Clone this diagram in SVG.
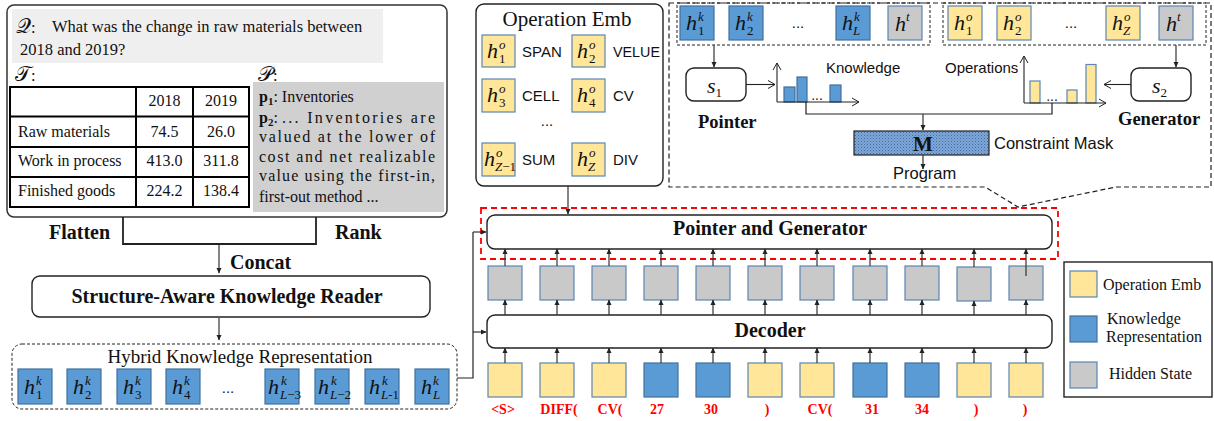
<svg xmlns="http://www.w3.org/2000/svg" width="1214" height="421" viewBox="0 0 1214 421">
<style>
.ser{font-family:"Liberation Serif","Times New Roman",serif}
.san{font-family:"Liberation Sans",Arial,sans-serif}
.blue{fill:#5b9bd5;stroke:#41719c;stroke-width:1.2}
.yel{fill:#ffe699;stroke:#5b86b5;stroke-width:1.2}
.gry{fill:#c9c9c9;stroke:#5b86b5;stroke-width:1.2}
.hl{font-family:"Liberation Serif","Times New Roman",serif;font-style:italic;font-size:22px;fill:#111}
.sp{font-size:13px;font-style:italic}
.sb{font-size:13px;font-style:normal}
.si{font-size:13px;font-style:italic}
.rbox{fill:#fff;stroke:#222;stroke-width:1.4}
.ln{fill:none;stroke:#222;stroke-width:1.2}
.arr{fill:none;stroke:#333;stroke-width:1.2;marker-end:url(#ah)}
.oarr{fill:none;stroke:#222;stroke-width:1.1;marker-end:url(#oa)}
.dash{fill:none;stroke:#222;stroke-width:1;stroke-dasharray:3,2}
.bold{font-family:"Liberation Serif","Times New Roman",serif;font-weight:bold;fill:#111}
.tok{font-family:"Liberation Serif","Times New Roman",serif;font-weight:bold;font-size:14px;fill:#ff0000;text-anchor:middle}
.tb{fill:none;stroke:#000;stroke-width:2}
.tt{font-family:"Liberation Serif","Times New Roman",serif;font-size:16px;fill:#111}
.scr{font-family:"DejaVu Serif","Liberation Serif",serif;font-size:21px;fill:#111}
</style>
<defs>
<marker id="ah" markerWidth="6" markerHeight="6" refX="5" refY="3" orient="auto" markerUnits="userSpaceOnUse"><path d="M0,0.5 L5.5,3 L0,5.5 z" fill="#222"/></marker>
<marker id="oa" markerWidth="10" markerHeight="10" refX="8" refY="5" orient="auto" markerUnits="userSpaceOnUse"><path d="M1,1 L8,5 L1,9" fill="none" stroke="#222" stroke-width="1"/></marker>
<pattern id="dots" width="3" height="3" patternUnits="userSpaceOnUse"><rect width="3" height="3" fill="#80a7d8"/><rect width="1" height="1" fill="#3f6da8"/><rect x="1.5" y="1.5" width="1" height="1" fill="#4d7bb5"/></pattern>
</defs>

<!-- Input: question, table, passage -->
<g id="input">
<rect x="7" y="5" width="440" height="212" rx="7" fill="#fff" stroke="#333" stroke-width="1.5"/>
<rect x="12" y="9" width="371" height="54" fill="#efefef"/>
<text class="scr" x="16" y="33">𝒬<tspan class="ser" font-size="16.5">:</tspan></text>
<text class="ser" x="52" y="32" font-size="16.5" fill="#111">What was the change in raw materials between</text>
<text class="ser" x="20" y="55" font-size="16.5" fill="#111">2018 and 2019?</text>
<text class="scr" x="15" y="81">𝒯<tspan class="ser" font-size="16.5">:</tspan></text>
<text class="scr" x="258" y="81">𝒫<tspan class="ser" font-size="16.5">:</tspan></text>
<rect class="tb" x="10" y="87" width="239" height="120"/>
<path class="tb" d="M10,116.5 H249 M10,147 H249 M10,177 H249 M136,87 V207 M193,87 V207"/>
<text class="tt" x="164.5" y="106" text-anchor="middle">2018</text>
<text class="tt" x="221" y="106" text-anchor="middle">2019</text>
<text class="tt" x="18" y="137">Raw materials</text>
<text class="tt" x="164.5" y="137" text-anchor="middle">74.5</text>
<text class="tt" x="221" y="137" text-anchor="middle">26.0</text>
<text class="tt" x="18" y="166">Work in process</text>
<text class="tt" x="164.5" y="166" text-anchor="middle">413.0</text>
<text class="tt" x="221" y="166" text-anchor="middle">311.8</text>
<text class="tt" x="18" y="196">Finished goods</text>
<text class="tt" x="164.5" y="196" text-anchor="middle">224.2</text>
<text class="tt" x="221" y="196" text-anchor="middle">138.4</text>
<rect x="253" y="82" width="191" height="130" fill="#d0d0d0"/>
<text class="tt" x="259" y="102"><tspan font-weight="bold">p</tspan><tspan font-weight="bold" font-size="11" dy="3">1</tspan><tspan dy="-3">: Inventories</tspan></text>
<text class="tt" x="259" y="123"><tspan font-weight="bold">p</tspan><tspan font-weight="bold" font-size="11" dy="3">2</tspan><tspan dy="-3">:</tspan></text>
<text class="tt" x="282" y="123" textLength="153" lengthAdjust="spacing">... Inventories are</text>
<text class="tt" x="259" y="142" textLength="176" lengthAdjust="spacing">valued at the lower of</text>
<text class="tt" x="259" y="162" textLength="176" lengthAdjust="spacing">cost and net realizable</text>
<text class="tt" x="259" y="181" textLength="176" lengthAdjust="spacing">value using the first-in,</text>
<text class="tt" x="259" y="202">first-out method ...</text>
</g>

<g id="flatten-rank">
<path d="M123,217 V244 H316 V217" fill="none" stroke="#222" stroke-width="1.8"/>
<text class="bold" x="49" y="239" font-size="20">Flatten</text>
<text class="bold" x="335" y="239" font-size="20">Rank</text>
<text class="bold" x="230" y="269" font-size="20">Concat</text>
</g>

<g id="reader">
<rect class="rbox" x="32" y="276" width="398" height="41" rx="8"/>
<text class="bold" x="227" y="303" font-size="20" text-anchor="middle">Structure-Aware Knowledge Reader</text>
</g>

<g id="hybrid">
<rect x="12" y="344" width="445" height="65" rx="10" class="dash"/>
<text class="ser" x="240" y="363" font-size="19" text-anchor="middle" fill="#111">Hybrid Knowledge Representation</text>
<rect class="blue" x="18" y="369" width="34" height="35"/>
<rect class="blue" x="67" y="369" width="34" height="35"/>
<rect class="blue" x="117" y="369" width="34" height="35"/>
<rect class="blue" x="166" y="369" width="34" height="35"/>
<rect class="blue" x="265" y="369" width="34" height="35"/>
<rect class="blue" x="315" y="369" width="34" height="35"/>
<rect class="blue" x="365" y="369" width="34" height="35"/>
<rect class="blue" x="415" y="369" width="34" height="35"/>
<text class="hl" x="24" y="394">h<tspan class="sp" x="36" dy="-9">k</tspan><tspan class="sb" x="36" dy="14">1</tspan></text>
<text class="hl" x="73" y="394">h<tspan class="sp" x="85" dy="-9">k</tspan><tspan class="sb" x="85" dy="14">2</tspan></text>
<text class="hl" x="123" y="394">h<tspan class="sp" x="135" dy="-9">k</tspan><tspan class="sb" x="135" dy="14">3</tspan></text>
<text class="hl" x="172" y="394">h<tspan class="sp" x="184" dy="-9">k</tspan><tspan class="sb" x="184" dy="14">4</tspan></text>
<text class="san" x="228" y="393" font-size="15" text-anchor="middle" fill="#111">...</text>
<text class="hl" x="268" y="394">h<tspan class="sp" x="281" dy="-9">k</tspan><tspan class="si" x="280" dy="14">L</tspan><tspan class="sb">−3</tspan></text>
<text class="hl" x="318" y="394">h<tspan class="sp" x="331" dy="-9">k</tspan><tspan class="si" x="330" dy="14">L</tspan><tspan class="sb">−2</tspan></text>
<text class="hl" x="369" y="394">h<tspan class="sp" x="382" dy="-9">k</tspan><tspan class="si" x="381" dy="14">L</tspan><tspan class="sb">-1</tspan></text>
<text class="hl" x="421" y="394">h<tspan class="sp" x="433" dy="-9">k</tspan><tspan class="si" x="433" dy="14">L</tspan></text>
</g>

<g id="operation-emb">
<rect class="rbox" x="476" y="4" width="187" height="182" rx="8"/>
<text class="ser" x="567" y="26" font-size="21" text-anchor="middle" fill="#111">Operation Emb</text>
<rect class="yel" x="482" y="35" width="33" height="32"/>
<rect class="yel" x="572" y="35" width="33" height="32"/>
<rect class="yel" x="482" y="79" width="33" height="33"/>
<rect class="yel" x="572" y="79" width="33" height="33"/>
<rect class="yel" x="482" y="143" width="33" height="33"/>
<rect class="yel" x="572" y="143" width="33" height="33"/>
<text class="hl" x="487" y="58">h<tspan class="sp" x="499" dy="-9">o</tspan><tspan class="sb" x="499" dy="14">1</tspan></text>
<text class="hl" x="577" y="58">h<tspan class="sp" x="589" dy="-9">o</tspan><tspan class="sb" x="589" dy="14">2</tspan></text>
<text class="hl" x="487" y="102">h<tspan class="sp" x="499" dy="-9">o</tspan><tspan class="sb" x="499" dy="14">3</tspan></text>
<text class="hl" x="577" y="102">h<tspan class="sp" x="589" dy="-9">o</tspan><tspan class="sb" x="589" dy="14">4</tspan></text>
<text class="hl" x="484" y="166">h<tspan class="sp" x="496" dy="-9">o</tspan><tspan class="si" x="495" dy="14">Z</tspan><tspan class="sb">−1</tspan></text>
<text class="hl" x="577" y="166">h<tspan class="sp" x="589" dy="-9">o</tspan><tspan class="si" x="588" dy="14">Z</tspan></text>
<g class="san" font-size="15" fill="#111">
<text x="522" y="57">SPAN</text>
<text x="613" y="57" textLength="47" lengthAdjust="spacingAndGlyphs">VELUE</text>
<text x="522" y="101">CELL</text>
<text x="613" y="101">CV</text>
<text x="547" y="126" text-anchor="middle">...</text>
<text x="522" y="165">SUM</text>
<text x="613" y="165">DIV</text>
</g>
</g>

<!-- Zoomed pointer/generator detail -->
<g id="pg-detail">
<path d="M669,3 H1211 V187 H1116 L1018,207 L985,187 H669 Z" fill="none" stroke="#222" stroke-width="1.2" stroke-dasharray="5,3"/>
<rect class="dash" x="677" y="3" width="253" height="42"/>
<rect class="dash" x="943" y="3" width="263" height="42"/>
<rect class="blue" x="680" y="6" width="34" height="34"/>
<rect class="blue" x="729" y="6" width="34" height="34"/>
<rect class="blue" x="836" y="6" width="34" height="34"/>
<rect class="gry" x="888" y="6" width="34" height="34"/>
<text class="hl" x="686" y="30">h<tspan class="sp" x="698" dy="-9">k</tspan><tspan class="sb" x="698" dy="14">1</tspan></text>
<text class="hl" x="735" y="30">h<tspan class="sp" x="747" dy="-9">k</tspan><tspan class="sb" x="747" dy="14">2</tspan></text>
<text class="san" x="798" y="28" font-size="15" text-anchor="middle" fill="#111">...</text>
<text class="hl" x="842" y="30">h<tspan class="sp" x="854" dy="-9">k</tspan><tspan class="si" x="853" dy="14">L</tspan></text>
<text class="hl" x="895" y="31" font-size="24">h<tspan class="sp" font-size="14" dy="-10">t</tspan></text>
<rect class="yel" x="948" y="6" width="34" height="34"/>
<rect class="yel" x="997" y="6" width="34" height="34"/>
<rect class="yel" x="1106" y="6" width="34" height="34"/>
<rect class="gry" x="1159" y="6" width="34" height="34"/>
<text class="hl" x="954" y="30">h<tspan class="sp" x="966" dy="-9">o</tspan><tspan class="sb" x="966" dy="14">1</tspan></text>
<text class="hl" x="1003" y="30">h<tspan class="sp" x="1015" dy="-9">o</tspan><tspan class="sb" x="1015" dy="14">2</tspan></text>
<text class="san" x="1071" y="28" font-size="15" text-anchor="middle" fill="#111">...</text>
<text class="hl" x="1112" y="30">h<tspan class="sp" x="1124" dy="-9">o</tspan><tspan class="si" x="1123" dy="14">Z</tspan></text>
<text class="hl" x="1166" y="31" font-size="24">h<tspan class="sp" font-size="14" dy="-10">t</tspan></text>

<rect class="rbox" x="686" y="68" width="60" height="33" rx="8"/>
<text class="hl" x="707" y="93" font-size="24">s<tspan class="sb" font-size="15" dy="4">1</tspan></text>
<rect class="rbox" x="1131" y="68" width="60" height="33" rx="8"/>
<text class="hl" x="1152" y="93" font-size="24">s<tspan class="sb" font-size="15" dy="4">2</tspan></text>

<rect class="blue" x="784" y="87" width="11" height="15"/>
<rect class="blue" x="797" y="77" width="10" height="25"/>
<rect class="blue" x="830" y="85" width="11" height="17"/>
<text class="san" x="817" y="100" font-size="14" text-anchor="middle" fill="#111">...</text>
<path class="oarr" d="M777,102 V63"/>
<path class="oarr" d="M777,102 H859"/>
<text class="san" x="826" y="73" font-size="15" fill="#111">Knowledge</text>

<rect class="yel" x="1030" y="81" width="10" height="22"/>
<rect class="yel" x="1067" y="90" width="10" height="13"/>
<rect class="yel" x="1086" y="64.5" width="10" height="38.5"/>
<text class="san" x="1052" y="101" font-size="14" text-anchor="middle" fill="#111">...</text>
<path class="oarr" d="M1024,103 V56"/>
<path class="oarr" d="M1024,103 H1106"/>
<text class="san" x="945" y="73" font-size="15" fill="#111">Operations</text>

<text class="bold" x="698" y="128" font-size="18.5">Pointer</text>
<text class="bold" x="1118" y="125" font-size="18.5">Generator</text>

<rect x="854" y="131" width="135" height="24" fill="url(#dots)" stroke="#222" stroke-width="1.2"/>
<text class="bold" x="923" y="151" font-size="21" text-anchor="middle">M</text>
<text class="san" x="994" y="149" font-size="16.5" fill="#111">Constraint Mask</text>
<text class="san" x="893" y="179" font-size="16.5" fill="#111">Program</text>
</g>

<g id="pointer-generator">
<rect x="481" y="208" width="577" height="51" fill="none" stroke="#ff0000" stroke-width="1.8" stroke-dasharray="6,4"/>
<rect class="rbox" x="487" y="215" width="565" height="34" rx="8"/>
<text class="bold" x="770" y="235" font-size="20" text-anchor="middle">Pointer and Generator</text>
</g>

<g id="hidden-states">
<rect class="gry" x="488" y="266" width="34" height="34"/>
<rect class="gry" x="540" y="266" width="34" height="34"/>
<rect class="gry" x="592" y="266" width="34" height="34"/>
<rect class="gry" x="644" y="266" width="34" height="34"/>
<rect class="gry" x="696" y="266" width="34" height="34"/>
<rect class="gry" x="748" y="266" width="34" height="34"/>
<rect class="gry" x="800" y="266" width="34" height="34"/>
<rect class="gry" x="853" y="266" width="34" height="34"/>
<rect class="gry" x="905" y="266" width="34" height="34"/>
<rect class="gry" x="957" y="267" width="34" height="34"/>
<rect class="gry" x="1009" y="266" width="34" height="34"/>
</g>

<g id="decoder">
<rect class="rbox" x="487" y="315" width="565" height="33" rx="8"/>
<text class="bold" x="770" y="337" font-size="20" text-anchor="middle">Decoder</text>
</g>

<g id="input-tokens">
<rect class="yel" x="488" y="363" width="34" height="34"/>
<rect class="yel" x="540" y="363" width="34" height="34"/>
<rect class="yel" x="592" y="363" width="34" height="34"/>
<rect class="blue" x="644" y="363" width="34" height="34"/>
<rect class="blue" x="696" y="363" width="34" height="34"/>
<rect class="yel" x="748" y="363" width="34" height="34"/>
<rect class="yel" x="800" y="363" width="34" height="34"/>
<rect class="blue" x="853" y="363" width="34" height="34"/>
<rect class="blue" x="905" y="363" width="34" height="34"/>
<rect class="yel" x="957" y="363" width="34" height="34"/>
<rect class="yel" x="1009" y="363" width="34" height="34"/>
<text class="tok" x="503" y="414">&lt;S&gt;</text>
<text class="tok" x="559" y="414">DIFF(</text>
<text class="tok" x="610" y="414">CV(</text>
<text class="tok" x="657" y="414">27</text>
<text class="tok" x="711" y="414">30</text>
<text class="tok" x="767" y="414">)</text>
<text class="tok" x="820" y="414">CV(</text>
<text class="tok" x="872" y="414">31</text>
<text class="tok" x="922" y="414">34</text>
<text class="tok" x="976" y="414">)</text>
<text class="tok" x="1025" y="414">)</text>
</g>

<g id="legend">
<rect x="1064" y="262" width="148" height="135" fill="#fff" stroke="#222" stroke-width="1.4"/>
<rect class="yel" x="1070" y="271" width="27" height="26"/>
<rect class="blue" x="1070" y="316" width="27" height="26"/>
<rect class="gry" x="1070" y="362" width="27" height="26"/>
<g class="ser" font-size="16" fill="#111">
<text x="1103" y="290">Operation Emb</text>
<text x="1107" y="324">Knowledge</text>
<text x="1106" y="342">Representation</text>
<text x="1109" y="379">Hidden State</text>
</g>
</g>

<g id="connectors">
<path class="arr" d="M219,245 V273"/>
<path class="arr" d="M219,318 V340"/>
<path class="ln" d="M457,378 H473 V232"/>
<path class="arr" d="M473,232 H486"/>
<path class="arr" d="M473,332 H486"/>
<path class="arr" d="M568,186 V214"/>
<path class="arr" d="M714,45 V67"/>
<path class="arr" d="M1176,45 V67"/>
<path class="oarr" d="M746,84.5 H775"/>
<path class="oarr" d="M1131,84.5 H1104"/>
<path class="ln" d="M806,102 V114 H1052 V103"/>
<path class="arr" d="M923,114 V130"/>
<path class="arr" d="M923,155 V169"/>
<g>
<path class="arr" d="M505,266 V249"/><path class="arr" d="M557,266 V249"/><path class="arr" d="M609,266 V249"/><path class="arr" d="M661,266 V249"/><path class="arr" d="M713,266 V249"/><path class="arr" d="M765,266 V249"/><path class="arr" d="M817,266 V249"/><path class="arr" d="M870,266 V249"/><path class="arr" d="M922,266 V249"/><path class="arr" d="M974,267 V249"/><path class="arr" d="M1026,276 V249"/>
<path class="arr" d="M505,315 V300"/><path class="arr" d="M557,315 V300"/><path class="arr" d="M609,315 V300"/><path class="arr" d="M661,315 V300"/><path class="arr" d="M713,315 V300"/><path class="arr" d="M765,315 V300"/><path class="arr" d="M817,315 V300"/><path class="arr" d="M870,315 V300"/><path class="arr" d="M922,315 V300"/><path class="arr" d="M974,315 V301"/><path class="arr" d="M1026,315 V300"/>
<path class="arr" d="M505,363 V348"/><path class="arr" d="M557,363 V348"/><path class="arr" d="M609,363 V348"/><path class="arr" d="M661,363 V348"/><path class="arr" d="M713,363 V348"/><path class="arr" d="M765,363 V348"/><path class="arr" d="M817,363 V348"/><path class="arr" d="M870,363 V348"/><path class="arr" d="M922,363 V348"/><path class="arr" d="M974,363 V348"/><path class="arr" d="M1026,363 V348"/>
</g>
</g>
</svg>
